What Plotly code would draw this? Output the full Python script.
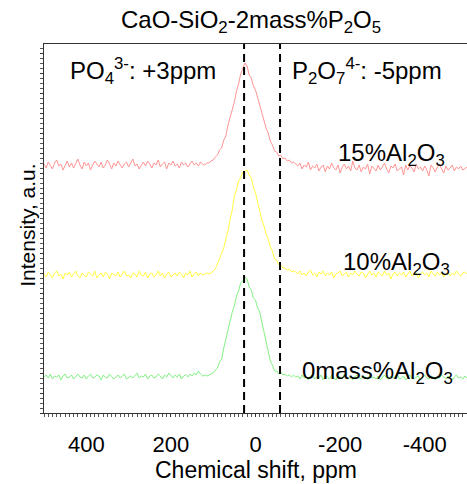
import plotly.graph_objects as go

# ---- data ----
chemical_shift_ppm = list(range(500, -501, -5))  # sampling grid, 201 points

red_15 = [
    3, -1, 5, 2, -2, 4, 7, 1, 3, -3, 2, 6, 0, 4, -1, 3, 8, 2, -2, 5,
    1, 4, -3, 2, 6, 3, 0, 5, -1, 2, 7, 3, -2, 4, 1, 6, 2, -1, 3, 5,
    0, 4, 8, 1, 3, -2, 2, 5, 1, 6, 3, -1, 4, 2, 7, 0, 3, 5, -2, 4,
    2, 6, 1, 3, -1, 5, 2, 4, 0, 3, 6, 2, 4, 1, 5, 3, 2, 4,
    4, 6, 7, 10, 12, 17, 19, 27, 31, 42, 50, 59, 65, 76, 83, 93, 98, 104, 101, 92,
    89, 81, 77, 69, 63, 54, 48, 39, 34, 26, 22, 16, 15, 11, 12, 8, 9, 6, 7, 4, 5,
    3, 1, 4, -2, 2, 0, 5, -3, 1, -1, 3, -4, 0, 2, -5, 1, -2, 4, -1, -3,
    2, -6, 0, 3, -2, 1, -4, 6, -1, -3, 2, -5, 0, -2, 3, -7, 1, -1, -4, 2,
    -3, 0, 4, -2, -6, 1, -1, 3, -4, -2, 0, -8, 2, -3, 1, -1, -5, 3, -2, 0,
    -4, 1, -3, -9, 2, -1, -5, 0, 3, -2, -6, 1, -3, -1, 2, -4, 0, -2, 1, -3,
    -1, 0,
]

yellow_10 = [
    1, -2, 3, 0, -3, 2, 4, -1, 1, -4, 2, 0, 3, -2, 1, 4, -1, -3, 2, 0,
    -2, 3, 1, -1, 4, -3, 0, 2, -2, 3, 1, -4, 2, 0, -1, 3, -2, 1, 4, -1,
    0, -3, 2, 1, -2, 4, 0, -1, 3, -3, 1, 2, -2, 0, 4, -1, 2, -3, 1, 3,
    -2, 0, 2, -1, 3, 1, -3, 2, 0, 4, -2, 1, 3, -1, 2, 0, 1, 2,
    1, 2, 4, 6, 11, 17, 23, 27, 36, 44, 56, 65, 79, 85, 94, 97, 103, 104, 105, 100,
    97, 88, 82, 73, 63, 55, 49, 41, 36, 28, 24, 16, 15, 10, 10, 7, 7, 5, 6, 3, 4,
    3, 1, 4, 0, 2, -1, 3, 5, 0, 2, -2, 3, 1, 4, -1, 2, 0, 3, -3, 1,
    2, 4, -1, 1, 3, -2, 2, 0, 4, 1, -1, 3, 2, -3, 1, 4, 0, 2, -2, 3,
    1, -1, 4, 0, 2, -4, 1, 3, -1, 2, 0, 3, -2, 1, 4, -1, 0, 2, -3, 1,
    3, 0, 2, -2, 4, 1, -1, 3, 0, 2, -2, 1, 3, -1, 2, 0, 4, 1, -1, 2,
    3, 1,
]

green_0 = [
    0, 2, -1, 3, -2, 1, 0, 2, -3, 1, 3, -1, 0, 2, -2, 1, 3, 0, -1, 2,
    -2, 1, 3, -1, 0, 2, 1, -3, 2, 0, -1, 3, 1, -2, 0, 2, -1, 1, 3, -2,
    0, 1, -1, 2, 4, -1, 1, 0, 3, -2, 1, 2, -1, 0, 3, 1, -2, 2, 0, 4,
    1, -1, 2, 0, 3, -2, 1, 2, 0, 3, 1, 4, 2, 6, 3, 1, 2, 1,
    2, 3, 4, 7, 9, 15, 18, 29, 39, 49, 56, 65, 71, 81, 86, 94, 96, 100, 98, 90,
    87, 79, 77, 69, 65, 55, 45, 35, 27, 16, 12, 6, 6, 3, 5, 2, 3, 1, 2, 0, 2,
    0, 1, -2, 2, -1, 0, -3, 1, 2, -2, 0, -1, 2, -3, 1, 0, -2, 2, -1, -3,
    1, 0, -2, 3, -1, -2, 1, -3, 0, 2, -1, -2, 1, 0, -3, 2, -1, 0, -2, 1,
    -3, 0, 2, -1, -2, 1, -1, 0, 3, -2, -1, 1, -3, 0, 2, -1, -2, 0, 1, -3,
    0, 2, -1, -2, 1, 0, -3, 1, -1, 2, 0, -2, 1, -1, -3, 0, 2, -1, 0, -2,
    1, -1,
]

series_names = ["15%Al<sub>2</sub>O<sub>3</sub>", "10%Al<sub>2</sub>O<sub>3</sub>", "0mass%Al<sub>2</sub>O<sub>3</sub>"]
series_values = [red_15, yellow_10, green_0]
series_offsets = [246, 138, 36]
series_colors = ["#ff9494", "#ffff40", "#84f084"]
label_positions = [(-453, 259), (-465, 150), (-472, 41)]

reference_shifts_ppm = [27, -58]
reference_labels = ["PO<sub>4</sub><sup>3-</sup>: +3ppm", "P<sub>2</sub>O<sub>7</sub><sup>4-</sup>: -5ppm"]
reference_label_x = [443, -82]

tick_values = [400, 200, 0, -200, -400]
tick_labels = ["400", "200", "0", "-200", "-400"]

FONT = "Liberation Sans, Arial, sans-serif"

fig = go.Figure()
for vals, off, col in zip(series_values, series_offsets, series_colors):
    fig.add_trace(go.Scatter(
        x=chemical_shift_ppm,
        y=[v + off for v in vals],
        mode="lines",
        line=dict(color=col, width=1),
        showlegend=False,
        hoverinfo="skip",
    ))

for name, (lx, ly) in zip(series_names, label_positions):
    fig.add_annotation(x=lx, y=ly, xref="x", yref="y", text=name, showarrow=False,
                       xanchor="right", yanchor="middle",
                       font=dict(family=FONT, size=24, color="black"))

for xs in reference_shifts_ppm:
    fig.add_shape(type="line", xref="x", yref="paper", x0=xs, x1=xs, y0=0, y1=1,
                  line=dict(color="black", width=2, dash="8px,5px"))

for txt, lx in zip(reference_labels, reference_label_x):
    fig.add_annotation(x=lx, y=342, xref="x", yref="y", text=txt, showarrow=False,
                       xanchor="left", yanchor="middle",
                       font=dict(family=FONT, size=24, color="black"))

# titles
fig.add_annotation(x=0.49, y=1.06, xref="paper", yref="paper",
                   text="CaO-SiO<sub>2</sub>-2mass%P<sub>2</sub>O<sub>5</sub>",
                   showarrow=False, xanchor="center", yanchor="middle",
                   font=dict(family=FONT, size=24, color="black"))
fig.add_annotation(x=0.50, y=-0.1545, xref="paper", yref="paper",
                   text="Chemical shift, ppm", showarrow=False,
                   xanchor="center", yanchor="middle",
                   font=dict(family=FONT, size=23, color="black"))
fig.add_annotation(x=-0.038, y=0.51, xref="paper", yref="paper",
                   text="Intensity, a.u.", showarrow=False, textangle=-90,
                   xanchor="center", yanchor="middle",
                   font=dict(family=FONT, size=21, color="black"))

fig.update_layout(
    width=467, height=484,
    margin=dict(l=44, r=0, t=44, b=71),
    paper_bgcolor="white", plot_bgcolor="white",
    font=dict(family=FONT, color="black"),
)
fig.update_xaxes(
    range=[500, -500], showgrid=False, zeroline=False,
    showline=True, linecolor="#333333", linewidth=1, mirror=True,
    tickvals=tick_values, ticktext=tick_labels,
    ticks="outside", ticklen=3, tickcolor="#333333",
    tickfont=dict(family=FONT, size=22, color="black"),
    ticklabelstandoff=9,
    minor=dict(dtick=10, ticks="outside", ticklen=3, tickcolor="#555555"),
)
fig.update_yaxes(
    range=[0, 369], showgrid=False, zeroline=False,
    showline=True, linecolor="#333333", linewidth=1,
    showticklabels=False, dtick=20, ticks="outside", ticklen=3, tickcolor="#333333",
    minor=dict(dtick=5, ticks="outside", ticklen=3, tickcolor="#555555"),
)

fig.write_html("out.html", config={"displayModeBar": False},
               post_script="document.body.style.margin='0';document.body.style.overflow='hidden';")
